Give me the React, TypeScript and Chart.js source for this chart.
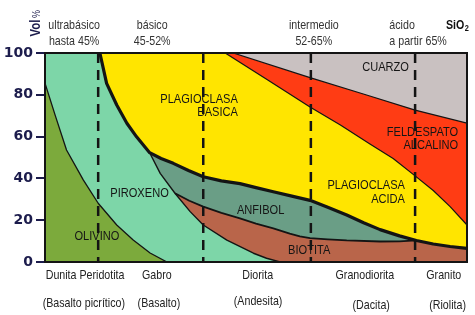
import React, { useEffect, useRef } from "react";
import { Chart, registerables } from "chart.js";

Chart.register(...registerables);

// ---- boundary curves: [position along SiO2 axis (0-100), Vol %]
const olivineTop = [[0, 85.6], [2.4, 70.3], [5.1, 53.6], [9.1, 39.2], [12.6, 28.1], [17.0, 17.7], [20.9, 10.5], [24.9, 4.3], [28.9, 0]];
const pyroxeneTopThick = [[13.0, 100], [14.6, 85.5], [17.0, 75.1], [19.4, 66.4], [21.7, 59.9], [24.8, 52.3]];
const pyroxeneAmphibole = [[24.8, 52.3], [27.3, 42.4], [30.8, 32.9]];
const pyroxeneBiotite = [[30.8, 32.9], [34.4, 24.1], [37.5, 17.7], [43.1, 10.5], [49.4, 4.2], [52.5, 1.8], [55.7, 0]];
const plagioclaseBottom = [[24.8, 52.3], [27.5, 49.5], [30.4, 47.2], [34, 43.8], [37.5, 40.8], [41.8, 38.8], [46.2, 37.5], [50, 35.6], [54.1, 33.6], [58.5, 31.5], [62.8, 29.5], [67, 26.2], [71.5, 22.5], [75.5, 18.8], [79.4, 15.5], [84, 12.5], [88, 10.3], [92, 8.6], [96, 7.4], [100, 6.5]];
const amphiboleBiotite = [[30.8, 32.9], [34.2, 29.3], [37.5, 26.5], [41.8, 23.5], [46.2, 20.9], [50, 18.4], [54.1, 16.1], [58, 13.6], [60.4, 12.3], [62.8, 11.4], [67, 10.8], [71.5, 10.3], [79.4, 9.8], [84, 9.9], [88, 10.3]];
const plagFeldspar = [[42.7, 100], [52.7, 87.2], [62.8, 74.2], [70, 65.5], [77, 56.5], [82.5, 49.5], [87.7, 41.2], [92, 34.2], [96, 26.5], [100, 17.7]];
const feldsparQuartz = [[44.6, 100], [62.8, 88.2], [76.2, 79.9], [87.7, 72.7], [100, 66.4]];
const zoneBoundaries = [12.6, 37.5, 63.0, 87.7];

const yTicks = [0, 20, 40, 60, 80, 100];

// ---- texts
const mineralNames = ["OLIVINO", "PIROXENO", "PLAGIOCLASA\nBASICA", "ANFIBOL", "BIOTITA", "PLAGIOCLASA\nACIDA", "FELDESPATO\nALCALINO", "CUARZO"];
const mineralAnchor = [[12.3, 12.1, "center"], [22.4, 32.9, "center"], [45.7, 78, "right"], [51.1, 24.9, "center"], [62.6, 5.7, "center"], [85.3, 36.5, "right"], [97.9, 62.3, "right"], [80.7, 93.2, "center"]];
const zoneNames = ["ultrabásico\nhasta 45%", "básico\n45-52%", "intermedio\n52-65%", "ácido\na partir 65%"];
const zoneAnchor = [[6.9, "center"], [25.4, "center"], [63.7, "center"], [81.6, "left"]];
const plutonicRocks = ["Dunita Peridotita", "Gabro", "Diorita", "Granodiorita", "Granito"];
const plutonicX = [9.5, 26.5, 50.4, 75.8, 94.5];
const volcanicRocks = ["(Basalto picrítico)", "(Basalto)", "(Andesita)", "(Dacita)", "(Riolita)"];
const volcanicX = [9.2, 27.0, 50.5, 77.3, 95.4];
const volcanicDy = [0, 0, -2, 2, 2];

const C = {
  olive: "#7caa3c",
  pyroxene: "#7dd6a8",
  amphibole: "#6a9e86",
  biotite: "#b9654a",
  plag: "#ffe500",
  feld: "#ff3c14",
  quartz: "#c9c1c1",
  ink: "#141414",
  navy: "#1c1c4c",
};

const SANS = '"Liberation Sans", Arial, sans-serif';

const pts = (a: number[][]) => a.map(([x, y]) => ({ x, y }));

function polygon(points: number[][], color: string, order: number) {
  return {
    data: pts(points),
    fill: "shape",
    backgroundColor: color,
    borderColor: "transparent",
    borderWidth: 0,
    pointRadius: 0,
    tension: 0,
    order,
  };
}
function curve(points: number[][], width: number, order: number, dash: number[] = []) {
  return {
    data: pts(points),
    fill: false,
    borderColor: C.ink,
    borderWidth: width,
    borderDash: dash,
    borderJoinStyle: "round",
    pointRadius: 0,
    tension: 0,
    order,
  };
}

// condensed text: Liberation Sans squeezed horizontally (narrow face)
function txt(ctx: CanvasRenderingContext2D, s: string, x: number, y: number, align: CanvasTextAlign, size: number, bold = false, rot = 0, sx = 0.82) {
  ctx.save();
  ctx.translate(x, y);
  if (rot) ctx.rotate(rot);
  ctx.scale(sx, 1);
  ctx.font = `${bold ? "bold " : ""}${size}px ${SANS}`;
  ctx.textAlign = align;
  ctx.textBaseline = "middle";
  ctx.fillText(s, 0, 0);
  ctx.restore();
}

const labelsPlugin = {
  id: "labels",
  afterDatasetsDraw(chart: any) {
    const { ctx, chartArea: a, scales } = chart;
    const xs = scales.x, ys = scales.y;
    ctx.save();
    // frame
    ctx.strokeStyle = C.ink;
    ctx.lineWidth = 2;
    ctx.strokeRect(a.left, a.top, a.right - a.left, a.bottom - a.top);
    // mineral names
    ctx.fillStyle = "#151515";
    mineralNames.forEach((name, i) => {
      const [x, y, align] = mineralAnchor[i] as any;
      name.split("\n").forEach((ln, k) => {
        txt(ctx, ln, xs.getPixelForValue(x), ys.getPixelForValue(y) + k * 13.5, align, 13.5);
      });
    });
    // zone names on top
    ctx.fillStyle = "#333";
    zoneNames.forEach((name, i) => {
      const [x, align] = zoneAnchor[i] as any;
      name.split("\n").forEach((ln, k) => {
        txt(ctx, ln, xs.getPixelForValue(x), a.top - 28 + k * 16, align, 13);
      });
    });
    // SiO2
    ctx.fillStyle = "#111";
    const sx = a.right - 21;
    txt(ctx, "SiO", sx, a.top - 28, "left", 13, true);
    ctx.font = `bold 13px ${SANS}`;
    const w = ctx.measureText("SiO").width * 0.82;
    txt(ctx, "2", sx + w + 0.5, a.top - 24, "left", 9, true);
    // rock names at bottom
    ctx.fillStyle = "#222";
    plutonicRocks.forEach((n, i) => txt(ctx, n, xs.getPixelForValue(plutonicX[i]), a.bottom + 13, "center", 13));
    volcanicRocks.forEach((n, i) => txt(ctx, n, xs.getPixelForValue(volcanicX[i]), a.bottom + 41 + volcanicDy[i], "center", 13));
    // axis title "Vol %"
    ctx.fillStyle = C.navy;
    txt(ctx, "Vol", a.left - 9, a.top - 25, "center", 14, true, -Math.PI / 2);
    txt(ctx, "%", a.left - 8, a.top - 39, "center", 11, false, -Math.PI / 2);
    ctx.restore();
  },
};

export default function App() {
  const ref = useRef<HTMLCanvasElement>(null);
  useEffect(() => {
    document.body.style.margin = "0";
    const after = plagioclaseBottom.filter(([x]) => x > 88);
    const datasets: any[] = [
      polygon([[0, 0], [0, 100], [100, 100], [100, 0]], C.quartz, 100),
      polygon([[0, 0], [0, 100], ...feldsparQuartz, [100, 0]], C.feld, 99),
      polygon([[0, 0], [0, 100], ...plagFeldspar, [100, 0]], C.plag, 98),
      polygon([[0, 0], [0, 100], ...pyroxeneTopThick, ...plagioclaseBottom.slice(1), [100, 0]], C.amphibole, 97),
      polygon([...amphiboleBiotite, ...after, [100, 0], [30.8, 0]], C.biotite, 96),
      polygon([[0, 0], [0, 100], ...pyroxeneTopThick, ...pyroxeneAmphibole.slice(1), ...pyroxeneBiotite.slice(1)], C.pyroxene, 95),
      polygon([[0, 0], ...olivineTop], C.olive, 94),
      curve(olivineTop, 1.3, 20),
      curve(feldsparQuartz, 1.2, 19),
      curve(plagFeldspar, 1.2, 18),
      curve([...pyroxeneAmphibole, ...pyroxeneBiotite.slice(1)], 1.4, 17),
      curve(amphiboleBiotite, 1.8, 16),
      ...zoneBoundaries.map((x, i) => curve([[x, 100], [x, 0]], 2.5, 10 + i, [10, 7])),
      curve([...pyroxeneTopThick, ...plagioclaseBottom.slice(1)], 3.2, 1),
    ];
    const chart = new Chart(ref.current as HTMLCanvasElement, {
      type: "line",
      data: { datasets },
      options: {
        animation: false,
        responsive: false,
        devicePixelRatio: 1,
        layout: { padding: { left: 0, right: 8, top: 53, bottom: 53 } },
        plugins: { legend: { display: false }, tooltip: { enabled: false } },
        scales: {
          x: { type: "linear", min: 0, max: 100, display: false },
          y: {
            type: "linear",
            min: 0,
            max: 100,
            afterFit: (s: any) => { s.width = 45; },
            afterBuildTicks: (s: any) => { s.ticks = yTicks.map((v) => ({ value: v })); },
            ticks: { color: C.navy, font: { family: "DejaVu Sans", weight: "bold", size: 14 }, padding: 3 },
            grid: { drawOnChartArea: false, drawTicks: true, tickLength: 9, color: C.navy, lineWidth: 2 },
            border: { display: false },
          },
        },
      } as any,
      plugins: [labelsPlugin],
    });
    return () => chart.destroy();
  }, []);
  return <canvas ref={ref} width={475} height={315} style={{ display: "block" }} />;
}
